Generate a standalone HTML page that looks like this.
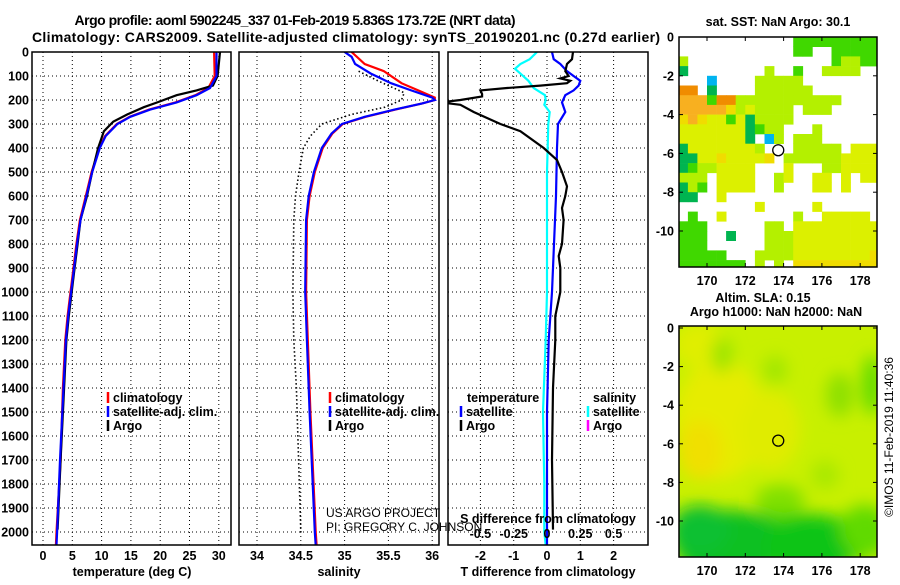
<!DOCTYPE html>
<html><head><meta charset="utf-8"><style>
body{margin:0;background:#fff;}
svg text{font-family:"Liberation Sans",Arial,sans-serif;}
.b{font-weight:bold;font-size:12.5px;}
</style></head><body>
<svg id="c" width="900" height="580" viewBox="0 0 900 580" xmlns="http://www.w3.org/2000/svg">
<defs>
<clipPath id="cp1"><rect x="32" y="52" width="199" height="493"/></clipPath>
<clipPath id="cp2"><rect x="239" y="52" width="200" height="493"/></clipPath>
<clipPath id="cp3"><rect x="448" y="52" width="200" height="493"/></clipPath>
<clipPath id="cm1"><rect x="679" y="37" width="198" height="230"/></clipPath>
<clipPath id="cm2"><rect x="679" y="326" width="198" height="231"/></clipPath>
<filter id="bl" x="-20%" y="-20%" width="140%" height="140%"><feGaussianBlur stdDeviation="8"/></filter>
</defs>
<text x="295" y="25" text-anchor="middle" font-size="14" font-weight="bold" textLength="441">Argo profile: aoml 5902245_337 01-Feb-2019 5.836S 173.72E (NRT data)</text>
<text x="346" y="42" text-anchor="middle" font-size="14" font-weight="bold" textLength="628">Climatology: CARS2009. Satellite-adjusted climatology: synTS_20190201.nc (0.27d earlier)</text>
<g id="g1"></g>
<g id="g2"></g>
<g id="g3"></g>
<g id="m1"></g>
<g id="m2"></g>
<text x="326" y="517" font-size="12">US ARGO PROJECT</text>
<text x="326" y="531" font-size="12">PI: GREGORY C. JOHNSON</text>
<text x="0" y="0" transform="translate(893,437) rotate(-90)" text-anchor="middle" font-size="12">©IMOS 11-Feb-2019 11:40:36</text>
</svg>
<script>
// ---- data ----
const pArgoT=[0,100,140,160,180,210,230,260,290,330,400,500,600,700,800,900,1000,1100,1200,1400,1700,1990];
const argoT=[30.2,29.8,29,26.2,22.8,19.5,17.2,14.4,12,10.4,9.4,8.4,7.5,6.4,5.9,5.4,4.9,4.4,4.0,3.6,3.0,2.5];
const pClimT=[0,100,150,180,210,240,270,300,350,400,500,600,700,800,900,1000,1100,1200,1400,1700,2000,2055];
const climT=[29.2,29.3,28.2,26.0,22.6,18.1,14.8,12.6,10.6,9.6,8.3,7.3,6.3,5.7,5.2,4.7,4.2,3.8,3.4,3.0,2.3,2.2];
const satT=[29.6,29.6,28.5,26.2,22.8,18.3,14.9,12.7,10.7,9.7,8.4,7.4,6.4,5.8,5.3,4.8,4.3,3.9,3.5,2.9,2.4,2.3];
const pSatS=[0,20,50,90,130,160,190,200,215,240,270,300,340,400,500,600,700,1000,1200,1500,2000,2055];
const satS=[35.0,35.08,35.12,35.3,35.53,35.76,36.0,36.03,35.88,35.57,35.23,34.97,34.85,34.74,34.65,34.59,34.56,34.55,34.57,34.6,34.66,34.67];
const pClimS=[0,50,80,130,160,190,200,215,240,270,300,340,400,500,600,700,1000,1200,1500,2000,2055];
const climS=[35.08,35.23,35.45,35.65,35.84,36.03,36.03,35.88,35.58,35.24,34.98,34.86,34.75,34.66,34.6,34.57,34.56,34.58,34.61,34.67,34.68];
const pArgoS=[80,120,170,200,230,260,300,350,400,500,600,700,1000,1200,1400,2000];
const argoS=[35.16,35.38,35.68,35.65,35.46,35.08,34.74,34.61,34.53,34.48,34.44,34.42,34.41,34.42,34.45,34.5];
const pDiffA=[0,30,50,80,100,110,120,130,140,150,160,175,185,200,210,220,250,300,330,400,450,500,560,600,650,700,800,850,900,1000,1100,1200,1400,1700,1990];
const diffArgoT=[0.78,0.75,0.6,0.55,0.65,0.4,0.7,0.6,-0.2,-1.2,-2.0,-1.95,-1.95,-2.6,-3.2,-2.6,-2.2,-1.4,-0.8,-0.1,0.3,0.45,0.6,0.55,0.45,0.5,0.45,0.35,0.4,0.4,0.25,0.25,0.18,0.15,0.18];
const pDiffS=[0,30,50,80,100,120,140,160,180,210,250,300,400,600,1000,1200,1500,2000,2055];
const diffSatT=[0.15,0.2,0.4,0.6,0.8,1.0,0.95,0.8,0.55,0.45,0.55,0.33,0.3,0.27,0.15,0.05,0.0,0.0,0.0];
const pDiffC=[0,30,50,70,90,120,150,180,200,220,250,300,500,1000,1200,1500,1800,2000,2055];
const diffSatS=[-0.075,-0.13,-0.2,-0.24,-0.2,-0.14,-0.1,-0.015,-0.01,-0.02,0.02,0.01,0.0,0.0,-0.01,-0.03,-0.02,-0.02,-0.01];
const pTicks=[0,100,200,300,400,500,600,700,800,900,1000,1100,1200,1300,1400,1500,1600,1700,1800,1900,2000];
const tTicks=[0,5,10,15,20,25,30];
const sTicks=[34,34.5,35,35.5,36];
const sTickLabels=["34","34.5","35","35.5","36"];
const dTicks=[-2,-1,0,1,2];
const sdTicks=[-0.5,-0.25,0,0.25,0.5];
const sdTickLabels=["-0.5","-0.25","0","0.25","0.5"];
const lonTicks=[170,172,174,176,178];
const latTicks=[0,-2,-4,-6,-8,-10];
const sstRows=[
"............GGGGGGGGG","............GG..GGGGG","g...............GggGG","D........g..G..gggg..",
"...b....ggggg........","OO.D....gggggg.......","oooGOOggggggggggg....","oooooYgygggg.ggg.....",
"YoYyyGyDgggg.........","yyyyyyyDGgg...g......","yyyyyyyD.bg.ggg......","Dyyyyyyyg...ggggg.yyy",
"DDyyYyyyyY.ggggggyyyy","DGggyyyy...y...ggyyyy","ggg.yyyy..gy..yy.y.yy","DgG.yyyy..g...yy.y...",
"DD..y................","........y.....y......",".G..y.......g..yyyyy.","GGG......gg.yyyyyyyyy",
"GGG..D...gggyyyyyyyyy","GGG......gggyyyyyyyyy","GGGGG...ggggyyyyyyyyY","GGGGGGG.g.g.YYYYYYYYY"];
const argoLon=173.72, argoLat=-5.836;

// ---- helpers ----
const NS="http://www.w3.org/2000/svg";
function mk(parent,tag,attrs,txt){const e=document.createElementNS(NS,tag);for(const k in attrs)e.setAttribute(k,attrs[k]);if(txt!==undefined)e.textContent=txt;parent.appendChild(e);return e;}
const yP=p=>52+p*0.24;
const xT=t=>43+t*5.86;
const xS=s=>257+(s-34)*87.6;
const xD=d=>547+d*33.3;
const xSD=s=>547+s*133.2;
function path(ps,vs,fx){return ps.map((p,i)=>(i?'L':'M')+fx(vs[i]).toFixed(1)+','+yP(p).toFixed(1)).join('');}

function panel(g,x0,x1,clip,vgrid){
  const fr=mk(g,'rect',{x:x0,y:52,width:x1-x0,height:493,fill:'#fff',stroke:'none'});
  
  
  pTicks.forEach(p=>{const l=mk(g,'line',{x1:x0,x2:x1,y1:yP(p),y2:yP(p),stroke:'#000','stroke-width':1,'stroke-dasharray':'1,3'});
    });
  vgrid.forEach(x=>{const l=mk(g,'line',{x1:x,x2:x,y1:52,y2:545,stroke:'#000','stroke-width':1,'stroke-dasharray':'1,3'});
    });
}
function border(g,x0,x1){const r=mk(g,'rect',{x:x0,y:52,width:x1-x0,height:493,fill:'none',stroke:'#000','stroke-width':1.5});
  }
function series(g,clip,d,color,name,dash){const e=mk(g,'path',{d:d,fill:'none',stroke:color,'stroke-width':dash?1.6:2.2,'clip-path':'url(#'+clip+')'});
  if(dash)e.setAttribute('stroke-dasharray',dash);
  }
function txt(g,x,y,s,name,anchor,cls){const t=mk(g,'text',{x:x,y:y,'text-anchor':anchor||'start','class':cls||'b'},s);
  return t;}
function legend(g,x,y,color,label){const l=mk(g,'line',{x1:x,x2:x,y1:y-10,y2:y+1,stroke:color,'stroke-width':2.5});
  
  txt(g,x+5,y,label,'legend-entry');}

// ---- panel 1 temperature ----
const g1=document.getElementById('g1');
panel(g1,32,231,'cp1',tTicks.map(xT));
series(g1,'cp1',path(pClimT,climT,xT),'#ff0000','climatology-temperature-line');
series(g1,'cp1',path(pArgoT,argoT,xT),'#000','argo-temperature-line');
series(g1,'cp1',path(pClimT,satT,xT),'#0000ff','satellite-temperature-line');
border(g1,32,231);
pTicks.forEach(p=>txt(g1,29,yP(p)+4.5,String(p),'y-tick-label','end'));
tTicks.forEach(t=>txt(g1,xT(t),560,String(t),'x-tick-label','middle'));
txt(g1,132,576,'temperature (deg C)','x-axis-title','middle');
legend(g1,108,402,'#ff0000','climatology');
legend(g1,108,416,'#0000ff','satellite-adj. clim.');
legend(g1,108,430,'#000','Argo');

// ---- panel 2 salinity ----
const g2=document.getElementById('g2');
panel(g2,239,439,'cp2',sTicks.map(xS));
series(g2,'cp2',path(pArgoS,argoS,xS),'#000','argo-salinity-line','1.5,2.5');
series(g2,'cp2',path(pClimS,climS,xS),'#ff0000','climatology-salinity-line');
series(g2,'cp2',path(pSatS,satS,xS),'#0000ff','satellite-salinity-line');
border(g2,239,439);
sTicks.forEach((s,i)=>txt(g2,xS(s),560,sTickLabels[i],'x-tick-label','middle'));
txt(g2,339,576,'salinity','x-axis-title','middle');
legend(g2,330,402,'#ff0000','climatology');
legend(g2,330,416,'#0000ff','satellite-adj. clim.');
legend(g2,330,430,'#000','Argo');

// ---- panel 3 differences ----
const g3=document.getElementById('g3');
panel(g3,448,648,'cp3',dTicks.map(xD));
series(g3,'cp3',path(pDiffC,diffSatS,xSD),'#00ffff','satellite-salinity-diff-line');
series(g3,'cp3',path(pDiffS,diffSatT,xD),'#0000ff','satellite-temperature-diff-line');
series(g3,'cp3',path(pDiffA,diffArgoT,xD),'#000','argo-temperature-diff-line');
border(g3,448,648);
dTicks.forEach(d=>txt(g3,xD(d),560,String(d),'x-tick-label','middle'));
sdTicks.forEach((s,i)=>txt(g3,xSD(s),538,sdTickLabels[i],'s-diff-tick-label','middle'));
txt(g3,548,576,'T difference from climatology','x-axis-title','middle');
txt(g3,548,523,'S difference from climatology','s-diff-axis-title','middle');
txt(g3,467,402,'temperature','legend-title');
txt(g3,593,402,'salinity','legend-title');
legend(g3,461,416,'#0000ff','satellite');
legend(g3,461,430,'#000','Argo');
legend(g3,588,416,'#00ffff','satellite');
legend(g3,588,430,'#ff00ff','Argo');

// ---- maps ----
const xL=lon=>707+(lon-170)*19.15;
function mapAxes(g,top,bottom,y0,dy,labY){
  const r=mk(g,'rect',{x:679,y:top,width:198,height:bottom-top,fill:'none',stroke:'#000','stroke-width':1.5});
  
  latTicks.forEach(l=>{const y=y0-l*dy;txt(g,674,y+4.5,String(l),'lat-tick-label','end');
    mk(g,'line',{x1:679,x2:683,y1:y,y2:y,stroke:'#000'});mk(g,'line',{x1:873,x2:877,y1:y,y2:y,stroke:'#000'});});
  lonTicks.forEach(l=>{const x=xL(l);txt(g,x,labY,String(l),'lon-tick-label','middle');
    mk(g,'line',{x1:x,x2:x,y1:bottom-4,y2:bottom,stroke:'#000'});mk(g,'line',{x1:x,x2:x,y1:top,y2:top+4,stroke:'#000'});});
}
const cols={g:'#b4f000',y:'#dcf000',Y:'#f0dc00',o:'#f8b020',O:'#f08c00',G:'#40d800',D:'#00b450',b:'#00b4f0'};
const m1=document.getElementById('m1');
txt(m1,778,26,'sat. SST: NaN Argo: 30.1','sst-map-title','middle');
const cg=mk(m1,'g',{'clip-path':'url(#cm1)'});
const yL1=lat=>37-lat*19.4;
sstRows.forEach((row,r)=>{for(let c=0;c<row.length;c++){const ch=row[c];if(ch==='.')continue;
  const e=mk(cg,'rect',{x:xL(168.5+c*0.5).toFixed(1),y:yL1(-r*0.5).toFixed(1),width:9.9,height:10,fill:cols[ch]});
  }});
const c1=mk(m1,'circle',{cx:xL(argoLon),cy:yL1(argoLat),r:5.5,fill:'none',stroke:'#000','stroke-width':1.3});

mapAxes(m1,37,267,37,19.4,285);

const m2=document.getElementById('m2');
txt(m2,763,302,'Altim. SLA: 0.15','sla-map-title','middle');
txt(m2,776,316,'Argo h1000: NaN h2000: NaN','sla-map-subtitle','middle');
const sg=mk(m2,'g',{'clip-path':'url(#cm2)'});
mk(sg,'rect',{x:679,y:326,width:198,height:231,fill:'#c8f000'});
const bg=mk(sg,'g',{filter:'url(#bl)'});
[[720,420,45,60,'#e6ec00'],[700,450,22,30,'#f0e000'],[770,430,30,40,'#e0ec00'],[700,345,25,22,'#e0ee00'],
 [722,355,10,18,'#98e400'],[775,370,12,14,'#a0e600'],[840,395,14,22,'#8ee000'],[872,385,10,30,'#60dc00'],
 [780,540,110,28,'#30d010'],[730,545,55,35,'#10c020'],[810,548,45,30,'#10c418'],[700,530,30,25,'#10c030'],[865,530,25,25,'#60da00'],
 [780,500,25,15,'#80e000'],[825,475,14,14,'#a8e800']].forEach(a=>{
  const e=mk(bg,'ellipse',{cx:a[0],cy:a[1],rx:a[2],ry:a[3],fill:a[4]});
  });
const c2=mk(m2,'circle',{cx:xL(argoLon),cy:328-argoLat*19.3,r:5.5,fill:'none',stroke:'#000','stroke-width':1.3});

mapAxes(m2,326,557,328,19.3,575);
</script>
</body></html>
